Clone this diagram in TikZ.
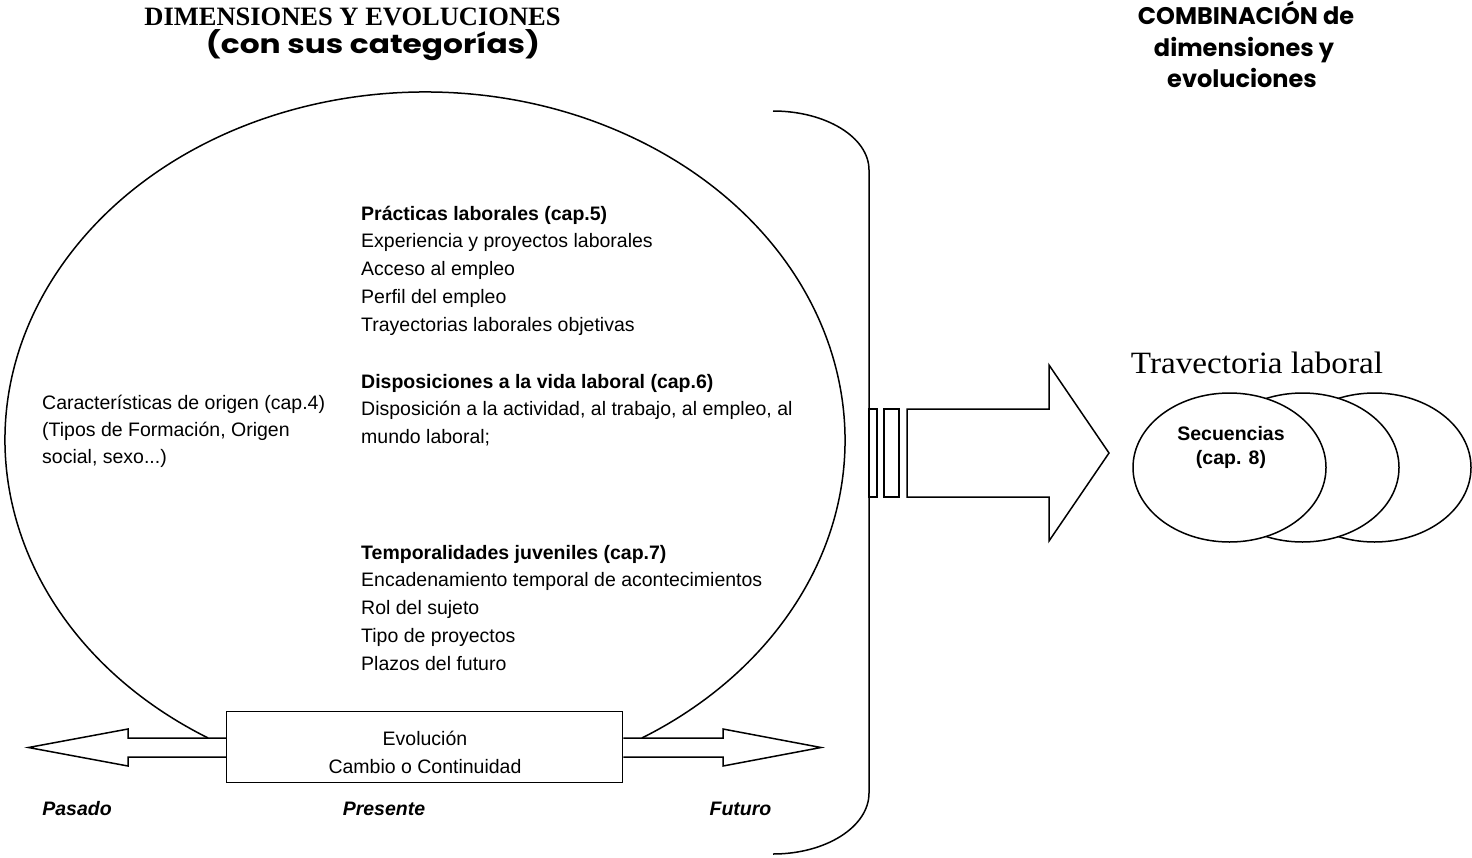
\documentclass[tikz,border=0pt]{standalone}
\usepackage{fontspec}
\setmainfont{Liberation Sans}
\newfontfamily\timesf{Liberation Serif}
\newfontfamily\gothic{Poppins}
\begin{document}
\begin{tikzpicture}[x=1pt,y=-1pt]
\tikzset{
  body/.style={font=\fontsize{19.5}{24}\selectfont, inner sep=0pt, anchor=base west},
  bodyb/.style={body, font=\fontsize{19.5}{24}\selectfont\bfseries},
  tline/.style={font=\fontsize{19.5}{24}\selectfont\bfseries\itshape, inner sep=0pt, anchor=base},
  ctext/.style={font=\fontsize{19.5}{24}\selectfont, inner sep=0pt, anchor=base},
  gtitle/.style={font=\gothic\bfseries\fontsize{24}{30}\selectfont, inner sep=0pt, anchor=base},
  outline/.style={draw, line width=1.5pt, line join=miter},
}
\useasboundingbox (0,0) rectangle (1472,857);
\fill[white] (0,0) rectangle (1472,857);

% titles
\node[font=\timesf\bfseries\fontsize{26.5}{30}\selectfont, inner sep=0pt, anchor=base] (ti1) at (352.5,25) {DIMENSIONES Y EVOLUCIONES};
\node[gtitle, font=\gothic\bfseries\fontsize{25}{30}\selectfont] (ti2) at (373,53) {\scalebox{1.25}[1.05]{(con sus categorías)}};
\node[gtitle] (tc1) at (1246,24) {COMBINACIÓN de};
\node[gtitle] (tc2) at (1244,56) {dimensiones y};
\node[gtitle] (tc3) at (1242,87) {evoluciones};

% big ellipse (open at the bottom)
\draw[outline] (425,440) ++(121.1:420 and 348) arc[start angle=121.1, end angle=418.9, x radius=420, y radius=348];

% left column text
\node[body] (o1) at (42,409) {Características de origen (cap.4)};
\node[body] (o2) at (42,436) {(Tipos de Formación, Origen};
\node[body] (o3) at (42,463) {social, sexo...)};

% block 1
\node[bodyb] (p1) at (361,220) {Prácticas laborales (cap.5)};
\node[body] (p2) at (361,247.75) {Experiencia y proyectos laborales};
\node[body] (p3) at (361,275.5) {Acceso al empleo};
\node[body] (p4) at (361,303.25) {Perfil del empleo};
\node[body] (p5) at (361,331) {Trayectorias laborales objetivas};
% block 2
\node[bodyb] (d1) at (361,388) {Disposiciones a la vida laboral (cap.6)};
\node[body] (d2) at (361,415.75) {Disposición a la actividad, al trabajo, al empleo, al};
\node[body] (d3) at (361,443.5) {mundo laboral;};
% block 3
\node[bodyb] (t1) at (361,559) {Temporalidades juveniles (cap.7)};
\node[body] (t2) at (361,586.75) {Encadenamiento temporal de acontecimientos};
\node[body] (t3) at (361,614.5) {Rol del sujeto};
\node[body] (t4) at (361,642.25) {Tipo de proyectos};
\node[body] (t5) at (361,670) {Plazos del futuro};

% evolution box and double arrow
\node[outline, minimum width=396pt, minimum height=71pt, inner sep=0pt] (evo) at (424.5,747.2) {};
\node[ctext] (e1) at (425,745) {Evolución};
\node[ctext] (e2) at (425,773) {Cambio o Continuidad};
\draw[outline] (evo.west |- 0,738) -- (128,738) -- (128,729) -- (28.5,747.5) -- (128,766) -- (128,757) -- (evo.west |- 0,757);
\draw[outline] (evo.east |- 0,738) -- (723,738) -- (723,729) -- (821,747.5) -- (723,766) -- (723,757) -- (evo.east |- 0,757);

\node[tline] (pa) at (77,815) {Pasado};
\node[tline] (pr) at (384,815) {Presente};
\node[tline] (fu) at (740.5,815) {Futuro};

% brace
\draw[line width=1.5pt] (773,111) arc[start angle=-90, end angle=0, x radius=96, y radius=59] -- (869,793) arc[start angle=0, end angle=90, x radius=96, y radius=61];

% bars and big arrow
\draw[outline] (869,409) rectangle (877,497);
\draw[outline] (884,409) rectangle (899,497);
\draw[outline] (907,409) -- (1049,409) -- (1049,365) -- (1109,453) -- (1049,541) -- (1049,497) -- (907,497) -- cycle;

% trajectory
\node[font=\timesf\fontsize{31}{34}\selectfont, inner sep=0pt, anchor=base] (tl) at (1257,373) {\scalebox{1.07}[1]{Travectoria laboral}};
\draw[outline, fill=white] (1374.5,467.5) ellipse [x radius=96.5, y radius=74.5];
\draw[outline, fill=white] (1302.5,467.5) ellipse [x radius=96.5, y radius=74.5];
\draw[outline, fill=white] (1229.5,467.5) ellipse [x radius=96.5, y radius=74.5];
\node[ctext, font=\fontsize{19.5}{24}\selectfont\bfseries] (s1) at (1231,440) {Secuencias};
\node[ctext, font=\fontsize{19.5}{24}\selectfont\bfseries] (s2) at (1231,464) {(cap. 8)};
\end{tikzpicture}
\end{document}
